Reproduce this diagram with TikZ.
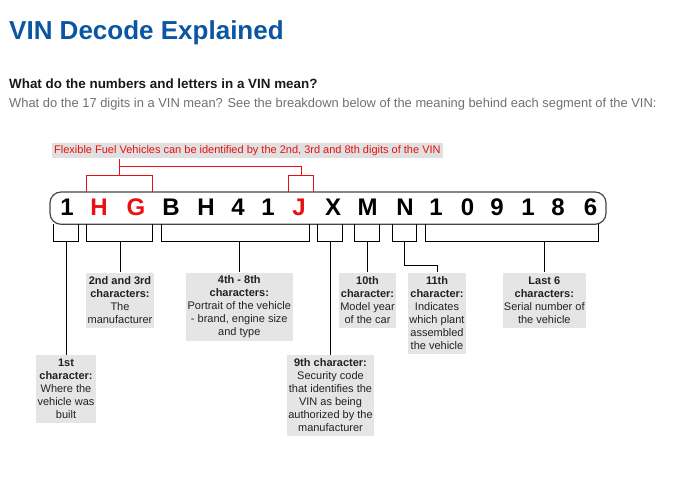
\documentclass[tikz,border=0pt]{standalone}
\usepackage{fontspec}
\setmainfont{Liberation Sans}
\definecolor{titleblue}{RGB}{10,86,162}
\definecolor{subgray}{RGB}{112,112,112}
\definecolor{boxgray}{RGB}{229,229,229}
\definecolor{ffgray}{RGB}{224,224,224}
\definecolor{vinred}{RGB}{232,16,16}
\definecolor{lbltext}{RGB}{34,34,34}
\definecolor{vinborder}{RGB}{70,70,70}
\begin{document}
\begin{tikzpicture}[x=1pt,y=-1pt,
  plain/.style={inner sep=0pt, anchor=base west},
  ch/.style={inner sep=0pt, anchor=base, font=\fontsize{24}{28}\selectfont\bfseries},
  chred/.style={ch, text=vinred},
  vinbox/.style={draw=vinborder, line width=1.2pt, fill=white, rounded corners=11pt, minimum width=556pt, minimum height=32.3pt, inner sep=0pt},
  lbl/.style={fill=boxgray, inner sep=0pt, align=center, anchor=north, text=lbltext, font=\fontsize{11}{13}\selectfont},
  brk/.style={draw=black, line width=1pt},
  rbrk/.style={draw=vinred, line width=1pt},
  ffbox/.style={fill=ffgray, inner xsep=2pt, inner ysep=0pt, minimum height=15.6pt, anchor=west, text=vinred, font=\fontsize{11}{13}\selectfont}
]
\useasboundingbox (0,0) rectangle (684,489);

% Headings
\node[plain, text=titleblue, font=\fontsize{26}{30}\selectfont\bfseries] (title) at (9,39.5) {VIN Decode Explained};
\node[plain, text=black!90, font=\fontsize{13.4}{15}\selectfont\bfseries] (sub) at (9,89) {What do the numbers and letters in a VIN mean?};
\node[plain, text=subgray, font=\fontsize{12.9}{15}\selectfont] (desc) at (9,107.5) {What do the 17 digits in a VIN mean? See the breakdown below of the meaning behind each segment of the VIN:};

% Flexible fuel note
\node[ffbox] (ff) at (52,150.5) {Flexible Fuel Vehicles can be identified by the 2nd, 3rd and 8th digits of the VIN};

% VIN box
\node[vinbox] (vin) at (328,208.15) {};

\node[ch] (c1) at (67,215.7) {1};
\node[chred] (c2) at (99,215.7) {H};
\node[chred] (c3) at (136,215.7) {G};
\node[ch] (c4) at (171,215.7) {B};
\node[ch] (c5) at (206,215.7) {H};
\node[ch] (c6) at (238,215.7) {4};
\node[ch] (c7) at (268,215.7) {1};
\node[chred] (c8) at (299,215.7) {J};
\node[ch] (c9) at (333,215.7) {X};
\node[ch] (c10) at (367.5,215.7) {M};
\node[ch] (c11) at (405,215.7) {N};
\node[ch] (c12) at (436,215.7) {1};
\node[ch] (c13) at (467.5,215.7) {0};
\node[ch] (c14) at (497,215.7) {9};
\node[ch] (c15) at (528,215.7) {1};
\node[ch] (c16) at (558,215.7) {8};
\node[ch] (c17) at (590.5,215.7) {6};

% Red brackets
\coordinate (rtop) at (119.3,166);
\coordinate (rj) at (301,166);
\draw[rbrk] (ff.south -| rtop) -- (119.3,175.7);
\draw[rbrk] (rtop) -- (rj) -- (301,175.7);
\draw[rbrk] (86.3,192) |- (152.3,175.7) -- (152.3,192);
\draw[rbrk] (288.7,192) |- (313.3,175.7) -- (313.3,192);

% Label boxes
\node[lbl, minimum width=60pt, minimum height=67.7pt] (b1) at (66,355) {\textbf{1st}\\\textbf{character:}\\Where the\\vehicle was\\built};
\node[lbl, minimum width=68pt, minimum height=55.4pt] (b23) at (120,272.3) {\textbf{2nd and 3rd}\\\textbf{characters:}\\The\\manufacturer};
\node[lbl, minimum width=106.7pt, minimum height=68.4pt] (b48) at (239.3,272.3) {\textbf{4th - 8th}\\\textbf{characters:}\\Portrait of the vehicle\\- brand, engine size\\and type};
\node[lbl, minimum width=87.6pt, minimum height=80.7pt] (b9) at (330.5,355) {\textbf{9th character:}\\Security code\\that identifies the\\VIN as being\\authorized by the\\manufacturer};
\node[lbl, minimum width=57pt, minimum height=55.4pt] (b10) at (367.5,272.3) {\textbf{10th}\\\textbf{character:}\\Model year\\of the car};
\node[lbl, minimum width=57.4pt, minimum height=81.4pt] (b11) at (437,272.3) {\textbf{11th}\\\textbf{character:}\\Indicates\\which plant\\assembled\\the vehicle};
\node[lbl, minimum width=83.3pt, minimum height=55.4pt] (b6) at (544.3,272.3) {\textbf{Last 6}\\\textbf{characters:}\\Serial number of\\the vehicle};

% Black brackets under the VIN
\draw[brk] (53.3,224.3) |- (78.3,241) -- (78.3,224.3);
\draw[brk] (86.3,224.3) |- (152.3,241) -- (152.3,224.3);
\draw[brk] (161.3,224.3) |- (309.3,241) -- (309.3,224.3);
\draw[brk] (317.3,224.3) |- (342.7,241) -- (342.7,224.3);
\draw[brk] (354.3,224.3) |- (379.3,241) -- (379.3,224.3);
\draw[brk] (392.3,224.3) |- (416.7,241) -- (416.7,224.3);
\draw[brk] (425.3,224.3) |- (598.3,241) -- (598.3,224.3);

\coordinate (m1) at (66,241);
\coordinate (m23) at (120,241);
\coordinate (m48) at (239.3,241);
\coordinate (m9) at (330.5,241);
\coordinate (m10) at (367.5,241);
\coordinate (m11) at (404.7,241);
\coordinate (m11b) at (404.7,265);
\coordinate (m6) at (544.3,241);

\draw[brk] (m1) -- (b1.north);
\draw[brk] (m23) -- (b23.north);
\draw[brk] (m48) -- (b48.north);
\draw[brk] (m9) -- (b9.north);
\draw[brk] (m10) -- (b10.north);
\draw[brk] (m11) -- (m11b) -| (b11.north);
\draw[brk] (m6) -- (b6.north);
\end{tikzpicture}
\end{document}
